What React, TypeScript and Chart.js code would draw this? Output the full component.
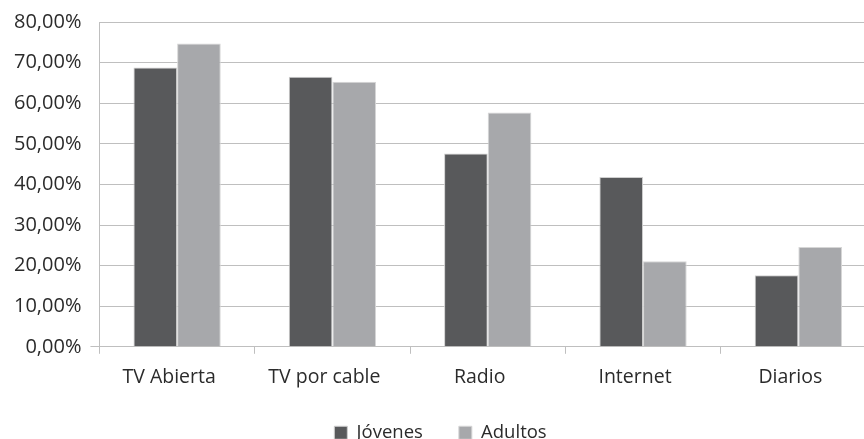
import React, { useEffect, useRef } from "react";
import { Chart, registerables } from "chart.js";

Chart.register(...registerables);

const categories = ["TV Abierta", "TV por cable", "Radio", "Internet", "Diarios"];
const jovenes = [68.8, 66.5, 47.6, 41.8, 17.6];
const adultos = [74.7, 65.3, 57.7, 21.1, 24.6];
const seriesNames = ["Jóvenes", "Adultos"];
const yTicks = { min: 0, max: 80, step: 10 };

const fmt = (v: number) => v.toFixed(2).replace(".", ",") + "%";

export default function App() {
  const ref = useRef<HTMLCanvasElement | null>(null);

  useEffect(() => {
    if (!ref.current) return;
    Chart.defaults.font.family = "'Open Sans', sans-serif";
    Chart.defaults.color = "#2b2b2b";
    const grid = "#bfbfbf";
    const chart = new Chart(ref.current, {
      type: "bar",
      data: {
        labels: categories,
        datasets: [
          {
            label: seriesNames[0],
            data: jovenes,
            backgroundColor: "#58595b",
            borderColor: "#cfcfcf",
            borderWidth: 1,
            categoryPercentage: 0.562,
            barPercentage: 1,
          },
          {
            label: seriesNames[1],
            data: adultos,
            backgroundColor: "#a7a8ab",
            borderColor: "#d6d6d6",
            borderWidth: 1,
            categoryPercentage: 0.562,
            barPercentage: 1,
          },
        ],
      },
      options: {
        animation: false,
        responsive: false,
        devicePixelRatio: 1,
        layout: { padding: { top: 22, left: 5, right: 4, bottom: 0 } },
        plugins: {
          tooltip: { enabled: false },
          legend: {
            position: "bottom",
            labels: {
              boxWidth: 13,
              boxHeight: 13,
              padding: 36,
              font: { size: 18.5 },
              color: "#2b2b2b",
            },
          },
        },
        scales: {
          x: {
            grid: {
              offset: true,
              drawOnChartArea: false,
              drawTicks: true,
              tickLength: 7,
              color: grid,
            },
            border: { display: true, color: grid },
            ticks: { padding: 12, labelOffset: -8, font: { size: 19.5 }, color: "#2b2b2b" },
            afterFit: (scale: any) => {
              scale.height -= 13.7;
            },
          },
          y: {
            min: yTicks.min,
            max: yTicks.max,
            grid: {
              color: grid,
              tickLength: 9,
              tickColor: (ctx: any) => (ctx.tick && ctx.tick.value === 0 ? grid : "rgba(0,0,0,0)"),
            },
            border: { display: true, color: grid },
            ticks: {
              stepSize: yTicks.step,
              padding: 9,
              font: { size: 20 },
              color: "#2b2b2b",
              callback: (v: any) => fmt(Number(v)),
            },
          },
        },
      },
    });
    return () => chart.destroy();
  }, []);

  return (
    <div
      style={{
        position: "absolute",
        left: 0,
        top: 0,
        width: 864,
        height: 439,
        overflow: "hidden",
        background: "#fff",
      }}
    >
      <canvas ref={ref} width={880} height={452} style={{ display: "block" }} />
    </div>
  );
}
